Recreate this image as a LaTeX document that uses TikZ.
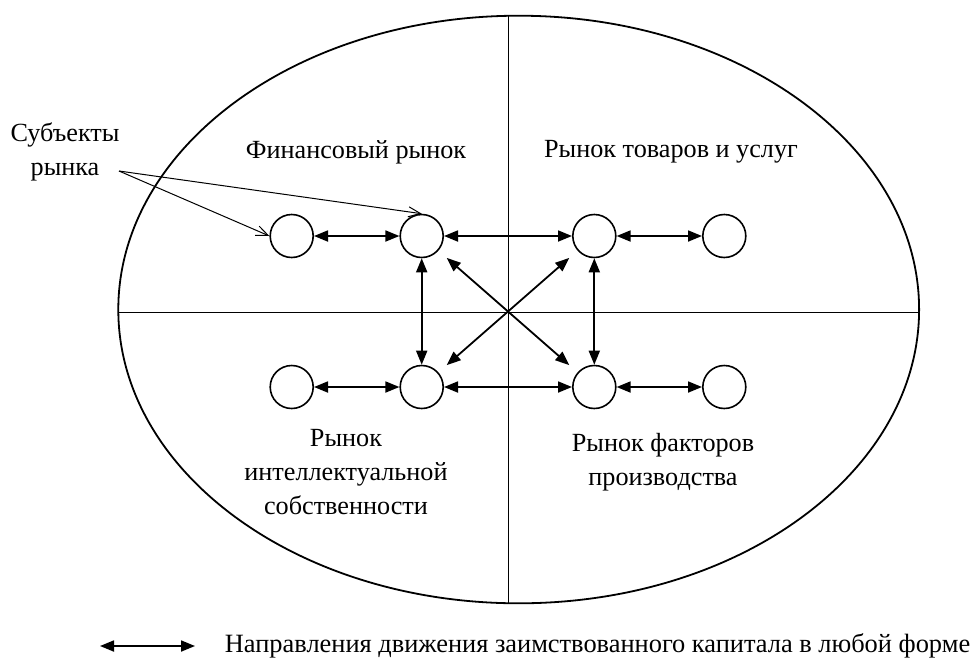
\documentclass[tikz,border=0pt]{standalone}
\usepackage{fontspec}
\setmainfont{Liberation Serif}
\newfontfamily\tnr{Liberation Serif}
\usetikzlibrary{arrows.meta}
\begin{document}
\begin{tikzpicture}[x=1pt,y=-1pt,
  line width=1.8pt,
  sub/.style={circle,draw,line width=1.6pt,minimum size=43pt,inner sep=0pt},
  lbl/.style={font=\tnr\fontsize{26.2}{34}\selectfont,align=center,inner sep=0pt},
  legtext/.style={font=\tnr\fontsize{26.4}{34}\selectfont,inner sep=0pt},
  dbl/.style={{Triangle[length=14pt,width=11pt]}-{Triangle[length=14pt,width=11pt]},line width=1.8pt},
  ptr/.style={-{Straight Barb[length=12pt,width=10pt]},line width=1pt}]
\useasboundingbox (0,0) rectangle (974,657);
% frame
\coordinate (O) at (518.7,309.5);
\draw (O) ellipse [x radius=400.4, y radius=293.8];
\coordinate (vt) at (508.3,15.8);
\coordinate (vb) at (508.3,603.2);
\coordinate (hl) at (118.3,312.3);
\coordinate (hr) at (919.1,312.3);
\draw[line width=1.5pt] (vt) -- (vb);
\draw[line width=1.5pt] (hl) -- (hr);
% subjects
\node[sub] (a1) at (291.7,236) {};
\node[sub] (a2) at (421.7,236) {};
\node[sub] (a3) at (594.3,236) {};
\node[sub] (a4) at (724.3,236) {};
\node[sub] (b1) at (291.7,387) {};
\node[sub] (b2) at (421.7,387) {};
\node[sub] (b3) at (594.3,387) {};
\node[sub] (b4) at (724.3,387) {};
% flows
\draw[dbl] (a1) -- (a2);
\draw[dbl] (a2) -- (a3);
\draw[dbl] (a3) -- (a4);
\draw[dbl] (b1) -- (b2);
\draw[dbl] (b2) -- (b3);
\draw[dbl] (b3) -- (b4);
\draw[dbl] (a2) -- (b2);
\draw[dbl] (a3) -- (b3);
\draw[dbl,shorten <=11pt,shorten >=11pt] (a2) -- (b3);
\draw[dbl,shorten <=11pt,shorten >=11pt] (a3) -- (b2);
% labels
\node[lbl] (fin) at (356,152) {Финансовый рынок};
\node[lbl] (tov) at (671,152) {Рынок товаров и услуг};
\node[lbl] (int) at (346,472) {Рынок\\интеллектуальной\\собственности};
\node[lbl] (fak) at (663,462) {Рынок факторов\\производства};
\node[lbl] (subj) at (65,152) {Субъекты\\рынка};
\coordinate (s) at (119,171);
\draw[ptr] (s) -- (a1.west);
\draw[ptr] (s) -- (a2.north);
% legend
\coordinate (l1) at (100,646);
\coordinate (l2) at (195,646);
\draw[dbl] (l1) -- (l2);
\node[legtext,anchor=west] (leg) at (224,646) {Направления движения заимствованного капитала в любой форме};
\end{tikzpicture}
\end{document}
